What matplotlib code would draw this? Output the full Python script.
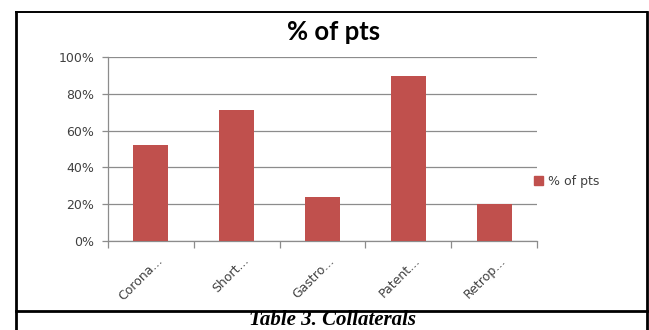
import numpy as np
import matplotlib
matplotlib.use("Agg")
import matplotlib.pyplot as plt
from matplotlib.lines import Line2D
from matplotlib.ticker import FixedLocator, PercentFormatter
import matplotlib.transforms as mtransforms

categories = ["Corona...", "Short...", "Gastro...", "Patent...", "Retrop..."]
pct_pts = [0.52, 0.71, 0.24, 0.90, 0.20]
yticks = [0.0, 0.2, 0.4, 0.6, 0.8, 1.0]
series_name = "% of pts"
chart_title = "% of pts"
caption = "Table 3. Collaterals"

W, H = 649, 330
fig = plt.figure(figsize=(W / 100, H / 100), dpi=100)

# plot area in pixel coords
left, right, top, bottom = 108, 537, 57.3, 240.7
ax = fig.add_axes([left / W, 1 - bottom / H, (right - left) / W, (bottom - top) / H])

x = np.arange(len(categories))
ax.bar(x, pct_pts, width=0.41, color="#C0504D", zorder=3)

ax.set_xlim(-0.5, len(categories) - 0.5)
ax.set_ylim(0, 1.0)
ax.set_yticks(yticks)
ax.yaxis.set_major_formatter(PercentFormatter(1.0, decimals=0))
ax.grid(axis="y", color="#8c8c8c", lw=0.9, zorder=0)
for s in ["top", "right"]:
    ax.spines[s].set_visible(False)
for s in ["left", "bottom"]:
    ax.spines[s].set_color("#8c8c8c")
    ax.spines[s].set_linewidth(0.9)

ax.tick_params(axis="y", length=4, color="#8c8c8c", width=0.9, pad=6,
               labelsize=9, labelcolor="#404040")
ax.set_xticks(x)
ax.set_xticklabels(categories, rotation=45, ha="right", va="center",
                   rotation_mode="anchor", fontsize=9, color="#404040")
ax.tick_params(axis="x", which="major", length=0, pad=13)
ax.xaxis.set_minor_locator(FixedLocator(np.arange(len(categories) + 1) - 0.5))
ax.tick_params(axis="x", which="minor", length=5, color="#8c8c8c", width=0.9)
offset = mtransforms.ScaledTranslation(10 / 100, 0, fig.dpi_scale_trans)
for lbl in ax.get_xticklabels():
    lbl.set_transform(lbl.get_transform() + offset)

fig.text(334 / W, 1 - 32 / H, chart_title, ha="center", va="center",
         fontsize=18.5, fontweight="bold", family="Lato")

leg = fig.legend([plt.Rectangle((0, 0), 1, 1, color="#C0504D")], [series_name],
                 loc="center left", bbox_to_anchor=(534 / W, 1 - 181 / H),
                 frameon=False, handlelength=0.75, handleheight=0.75,
                 handletextpad=0.35, borderpad=0, borderaxespad=0,
                 prop={"size": 9})
for t in leg.get_texts():
    t.set_color("#404040")

# page borders around the figure
def px_line(xs, ys, lw=2.0):
    fig.add_artist(Line2D([v / W for v in xs], [1 - v / H for v in ys],
                          color="black", lw=lw, transform=fig.transFigure))

px_line([16, 16], [12, 330])
px_line([647, 647], [12, 330])
px_line([16, 647], [12, 12], lw=1.4)
px_line([16, 647], [310.5, 310.5])

fig.text(332 / W, 1 - 325 / H, caption, ha="center", va="baseline",
         fontsize=15, fontweight="bold", style="italic", family="Liberation Serif")

fig.savefig("out.png", dpi=100)
